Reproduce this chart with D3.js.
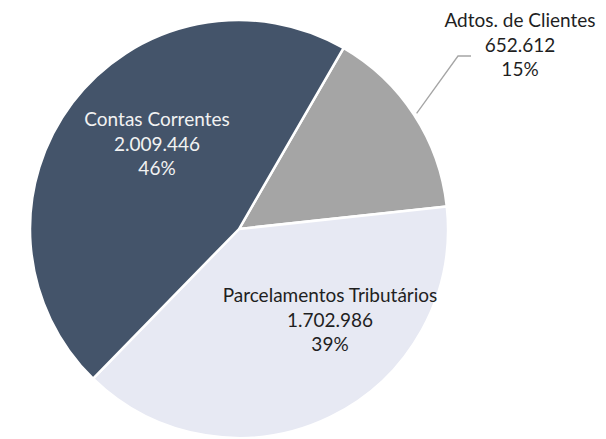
<!DOCTYPE html>
<html>
<head>
<meta charset="utf-8">
<script src="https://cdn.jsdelivr.net/npm/d3@7"></script>
<style>
  html, body { margin: 0; padding: 0; background: #fff; }
  svg { display: block; }
</style>
</head>
<body>
<svg id="chart" width="606" height="439"></svg>
<script>
// dados do gráfico
var categorias = ["Adtos. de Clientes", "Parcelamentos Tributários", "Contas Correntes"];
var valores = [652612, 1702986, 2009446];
var cores = ["#A5A5A5", "#E7E9F3", "#44546A"];
var corTexto = ["#1f1f1f", "#1f1f1f", "#F2F2F2"];

// posição dos rótulos (layout, como no Excel)
var rotuloPos = [[520, 27], [330, 302], [157, 126]];

const svg = d3.select("#chart");
const width = 606, height = 439;
const cx = 239, cy = 229, raio = 209;

const br = d3.formatLocale({ decimal: ",", thousands: ".", grouping: [3], currency: ["R$", ""] });
const fmt = br.format(",d");
const total = d3.sum(valores);

const dados = categorias.map((c, i) => ({ nome: c, valor: valores[i], i: i }));

// primeira fatia começa a 30 graus
const inicio = 30 * Math.PI / 180;
const pie = d3.pie()
    .sort(null)
    .value(d => d.valor)
    .startAngle(inicio)
    .endAngle(inicio + 2 * Math.PI);

const arc = d3.arc().innerRadius(0).outerRadius(raio);
const arcBorda = d3.arc().innerRadius(raio + 3).outerRadius(raio + 3);

const g = svg.append("g").attr("transform", `translate(${cx},${cy})`);
const fatias = pie(dados);

g.selectAll("path")
    .data(fatias)
    .join("path")
    .attr("d", arc)
    .attr("fill", d => cores[d.data.i])
    .attr("stroke", "#fff")
    .attr("stroke-width", 2.5)
    .attr("stroke-linejoin", "round");

// linha de chamada da fatia pequena
const pInicio = arcBorda.centroid(fatias[0]);
svg.append("polyline")
    .attr("points", [
        [cx + pInicio[0], cy + pInicio[1]],
        [458, 56],
        [471, 56]
    ].map(p => p.join(",")).join(" "))
    .attr("fill", "none")
    .attr("stroke", "#A5A5A5")
    .attr("stroke-width", 1.3);

// rótulos
fatias.forEach(function (f) {
    var i = f.data.i;
    var pct = Math.round(f.data.valor / total * 100) + "%";
    var linhas = [f.data.nome, fmt(f.data.valor), pct];
    var t = svg.append("text")
        .attr("x", rotuloPos[i][0])
        .attr("y", rotuloPos[i][1])
        .attr("text-anchor", "middle")
        .attr("fill", corTexto[i])
        .style("font-family", "Lato, 'Liberation Sans', sans-serif")
        .style("font-size", "19px");
    linhas.forEach(function (l, k) {
        t.append("tspan")
            .attr("x", rotuloPos[i][0])
            .attr("dy", k === 0 ? 0 : 24.5)
            .text(l);
    });
});
</script>
</body>
</html>
